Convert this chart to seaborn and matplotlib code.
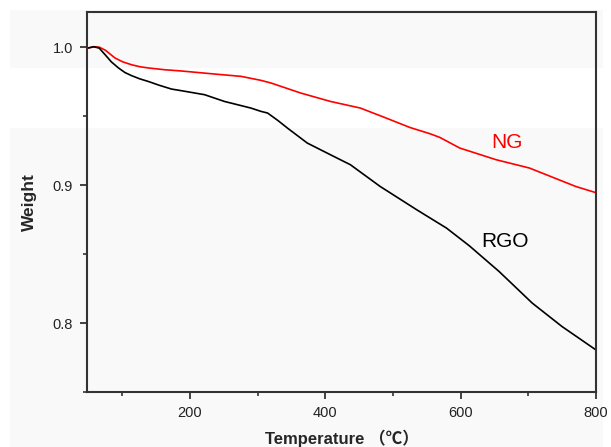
import numpy as np
import pandas as pd
import matplotlib
matplotlib.use("Agg")
import matplotlib.pyplot as plt
from matplotlib.patches import Rectangle
from matplotlib.ticker import MultipleLocator
import seaborn as sns

ng_temp = [50, 58, 66, 75, 89.5, 101, 114, 126, 138.6, 163, 187.5, 236.4, 275.6, 305, 319.7,
           363.8, 407.8, 451.9, 486.1, 525.2, 554.6, 569.3, 598.7, 652.6, 701.6, 770.2, 800]
ng_weight = [0.9996, 1.0005, 1.0002, 0.9980, 0.9923, 0.9895, 0.9874, 0.9860, 0.9851, 0.9838,
             0.9829, 0.9807, 0.9790, 0.9761, 0.9742, 0.9669, 0.9608, 0.9560, 0.9495, 0.9419,
             0.9374, 0.9347, 0.9270, 0.9185, 0.9125, 0.8991, 0.8946]

rgo_temp = [50, 58, 66, 74.8, 84, 94.5, 104, 114, 126, 138.6, 155, 172.8, 187.5, 221.7, 251.1,
            290.2, 305, 314.8, 330, 344.1, 373.5, 407.8, 437.1, 481.2, 535.2, 579.2, 612.8,
            656.9, 705.8, 749.8, 800]
rgo_weight = [0.9996, 1.0005, 0.9995, 0.9947, 0.9895, 0.9851, 0.9818, 0.9795, 0.9772, 0.9753,
              0.9725, 0.9698, 0.9686, 0.9657, 0.9608, 0.9560, 0.9536, 0.9524, 0.9470, 0.9415,
              0.9306, 0.9221, 0.9149, 0.8991, 0.8822, 0.8689, 0.8561, 0.8374, 0.8145, 0.7975,
              0.7805]

df = pd.concat([
    pd.DataFrame({"Temperature": ng_temp, "Weight": ng_weight, "Sample": "NG"}),
    pd.DataFrame({"Temperature": rgo_temp, "Weight": rgo_weight, "Sample": "RGO"}),
])

sns.set_style("white")
plt.rcParams["font.family"] = ["Liberation Sans", "Noto Sans CJK SC", "DejaVu Sans"]

fig = plt.figure(figsize=(6.11, 4.47), dpi=100)
fig.patch.set_facecolor("white")
W, H = 611, 447
for (y0, y1) in [(10, 68), (128, 447)]:
    r = Rectangle((10 / W, 1 - y1 / H), (603 - 10) / W, (y1 - y0) / H,
                  transform=fig.transFigure, facecolor="#f9f9f9",
                  edgecolor="none", zorder=-10)
    fig.patches.append(r)

ax = fig.add_axes([87 / W, 1 - 392 / H, (596 - 87) / W, (392 - 12) / H])
ax.set_facecolor("none")
ax.patch.set_alpha(0)

sns.lineplot(data=df, x="Temperature", y="Weight", hue="Sample",
             palette={"NG": "#ff0000", "RGO": "#000000"}, linewidth=1.2,
             legend=False, ax=ax, sort=False)

ax.set_xlim(48, 800)
ax.set_ylim(0.75, 1.0257)
ax.set_xticks([200, 400, 600, 800])
ax.set_yticks([0.8, 0.9, 1.0])
ax.set_yticklabels(["0.8", "0.9", "1.0"])
ax.xaxis.set_minor_locator(MultipleLocator(100))
ax.yaxis.set_minor_locator(MultipleLocator(0.05))

for s in ax.spines.values():
    s.set_visible(True)
    s.set_color("#333333")
    s.set_linewidth(1.5)

ax.tick_params(which="major", direction="out", length=5, width=1.3, color="#333333",
               labelsize=10.5, labelcolor="#222222", bottom=True, left=True, pad=5)
ax.tick_params(which="minor", direction="out", length=3, width=1.2, color="#333333",
               bottom=True, left=True)

ax.set_xlabel("Temperature （℃）", fontsize=12, fontweight="bold", labelpad=7)
ax.set_ylabel("Weight", fontsize=12.5, fontweight="bold", labelpad=11)

ax.text(668, 0.931, "NG", color="#ff0000", fontsize=15, ha="center", va="center")
ax.text(665, 0.859, "RGO", color="#000000", fontsize=15, ha="center", va="center")

fig.savefig("out.png", dpi=100, facecolor=fig.get_facecolor())
